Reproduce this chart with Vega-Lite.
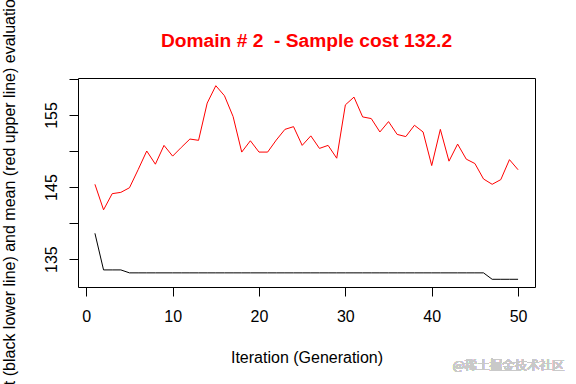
{
  "$schema": "https://vega.github.io/schema/vega-lite/v6.json",
  "autosize": "none",
  "width": 457,
  "height": 209,
  "padding": {"left": 78, "top": 78, "right": 41, "bottom": 97},
  "background": "white",
  "config": {
    "font": "Liberation Sans",
    "view": {"stroke": "black", "strokeWidth": 1}
  },
  "title": {
    "text": "Domain # 2\u00a0 - Sample cost 132.2",
    "color": "#FF0000",
    "fontSize": 19.2,
    "fontWeight": "bold",
    "font": "Liberation Sans",
    "anchor": "middle",
    "frame": "group",
    "baseline": "alphabetic",
    "offset": 31,
    "dy": 107
  },
  "data": {
    "values": [
      {"gen": 1, "best": 138.58, "mean": 145.38},
      {"gen": 2, "best": 133.5, "mean": 141.84},
      {"gen": 3, "best": 133.5, "mean": 144.08},
      {"gen": 4, "best": 133.5, "mean": 144.26},
      {"gen": 5, "best": 133.09, "mean": 144.9},
      {"gen": 6, "best": 133.09, "mean": 147.4},
      {"gen": 7, "best": 133.09, "mean": 150.0},
      {"gen": 8, "best": 133.09, "mean": 148.17},
      {"gen": 9, "best": 133.09, "mean": 150.78},
      {"gen": 10, "best": 133.09, "mean": 149.29},
      {"gen": 11, "best": 133.09, "mean": 150.5},
      {"gen": 12, "best": 133.09, "mean": 151.66},
      {"gen": 13, "best": 133.09, "mean": 151.48},
      {"gen": 14, "best": 133.09, "mean": 156.65},
      {"gen": 15, "best": 133.09, "mean": 159.06},
      {"gen": 16, "best": 133.09, "mean": 157.67},
      {"gen": 17, "best": 133.09, "mean": 154.78},
      {"gen": 18, "best": 133.09, "mean": 149.85},
      {"gen": 19, "best": 133.09, "mean": 151.42},
      {"gen": 20, "best": 133.09, "mean": 149.85},
      {"gen": 21, "best": 133.09, "mean": 149.85},
      {"gen": 22, "best": 133.09, "mean": 151.52},
      {"gen": 23, "best": 133.09, "mean": 153.0},
      {"gen": 24, "best": 133.09, "mean": 153.38},
      {"gen": 25, "best": 133.09, "mean": 150.78},
      {"gen": 26, "best": 133.09, "mean": 152.1},
      {"gen": 27, "best": 133.09, "mean": 150.36},
      {"gen": 28, "best": 133.09, "mean": 150.78},
      {"gen": 29, "best": 133.09, "mean": 149.0},
      {"gen": 30, "best": 133.09, "mean": 156.4},
      {"gen": 31, "best": 133.09, "mean": 157.48},
      {"gen": 32, "best": 133.09, "mean": 154.73},
      {"gen": 33, "best": 133.09, "mean": 154.5},
      {"gen": 34, "best": 133.09, "mean": 152.64},
      {"gen": 35, "best": 133.09, "mean": 154.08},
      {"gen": 36, "best": 133.09, "mean": 152.3},
      {"gen": 37, "best": 133.09, "mean": 152.0},
      {"gen": 38, "best": 133.09, "mean": 153.57},
      {"gen": 39, "best": 133.09, "mean": 152.64},
      {"gen": 40, "best": 133.09, "mean": 147.98},
      {"gen": 41, "best": 133.09, "mean": 153.0},
      {"gen": 42, "best": 133.09, "mean": 148.59},
      {"gen": 43, "best": 133.09, "mean": 150.96},
      {"gen": 44, "best": 133.09, "mean": 148.87},
      {"gen": 45, "best": 133.09, "mean": 148.26},
      {"gen": 46, "best": 133.09, "mean": 146.12},
      {"gen": 47, "best": 132.2, "mean": 145.38},
      {"gen": 48, "best": 132.2, "mean": 146.03},
      {"gen": 49, "best": 132.2, "mean": 148.8},
      {"gen": 50, "best": 132.2, "mean": 147.4}
    ]
  },
  "encoding": {
    "x": {
      "field": "gen",
      "type": "quantitative",
      "scale": {"domain": [-0.96, 51.96], "nice": false, "zero": false},
      "axis": {
        "title": "Iteration (Generation)",
        "values": [0, 10, 20, 30, 40, 50],
        "grid": false,
        "domain": false,
        "tickColor": "black",
        "tickSize": 9,
        "labelColor": "black",
        "labelFontSize": 16,
        "labelFont": "Liberation Sans",
        "labelPadding": 12,
        "labelFlush": false,
        "labelOverlap": false,
        "titleFont": "Liberation Sans",
        "titleFontSize": 16,
        "titleFontWeight": "normal",
        "titleColor": "black",
        "titlePadding": 25
      }
    }
  },
  "layer": [
    {
      "mark": {"type": "line", "color": "#FF0000", "strokeWidth": 1},
      "encoding": {
        "y": {
          "field": "mean",
          "type": "quantitative",
          "scale": {"domain": [131.13, 160.13], "nice": false, "zero": false},
          "axis": {
            "title": "Best (black lower line) and mean (red upper line) evaluation",
            "values": [135, 140, 145, 150, 155, 160],
            "labelExpr": "datum.value % 10 == 5 ? datum.label : ''",
            "grid": false,
            "domain": false,
            "tickColor": "black",
            "tickSize": 9,
            "labelColor": "black",
            "labelFontSize": 16,
            "labelFont": "Liberation Sans",
            "labelAngle": -90,
            "labelAlign": "center",
            "labelBaseline": "bottom",
            "labelPadding": 10,
            "labelFlush": false,
            "labelOverlap": false,
            "titleFont": "Liberation Sans",
            "titleFontSize": 16,
            "titleFontWeight": "normal",
            "titleColor": "black",
            "titlePadding": 26,
            "titleY": 123
          }
        }
      }
    },
    {
      "mark": {"type": "line", "color": "black", "strokeWidth": 1},
      "encoding": {
        "y": {"field": "best", "type": "quantitative"}
      }
    },
    {
      "mark": {"type": "text", "text": "@稀土掘金技术社区", "font": "Noto Sans CJK SC", "fontSize": 12.5, "fontWeight": "normal", "color": "#c9c9c9", "align": "center", "baseline": "middle"},
      "encoding": {
        "x": {"datum": 48.9},
        "y": {"datum": 120.2}
      }
    }
  ]
}
